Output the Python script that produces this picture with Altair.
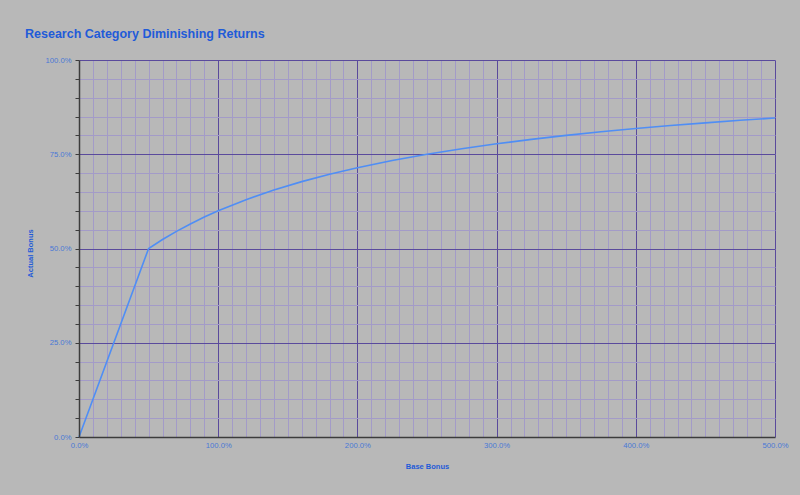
import altair as alt
import pandas as pd

# Data (fractions: 1.0 = 100%)
base_bonus = [0.0, 0.5, 0.6, 0.7, 0.8, 0.9, 1.0, 1.2, 1.4, 1.6, 1.8, 2.0,
              2.25, 2.5, 2.75, 3.0, 3.25, 3.5, 3.75, 4.0, 4.25, 4.5, 4.75, 5.0]
actual_bonus = [0.0, 0.5, 0.5238, 0.5455, 0.5652, 0.5833, 0.6, 0.6296, 0.6552,
                0.6774, 0.6970, 0.7143, 0.7333, 0.75, 0.7647, 0.7778, 0.7895,
                0.8, 0.8095, 0.8182, 0.8261, 0.8333, 0.8400, 0.8462]

x_minor = [round(i * 0.1, 2) for i in range(0, 51)]
y_minor = [round(i * 0.05, 2) for i in range(0, 21)]
x_major_grid = [1, 2, 3, 4, 5]
y_major_grid = [0.25, 0.5, 0.75, 1.0]
x_labels = [0, 1, 2, 3, 4, 5]

df = pd.DataFrame({"base": base_bonus, "actual": actual_bonus})

BG = "#b8b8b8"
MAJOR = "#5a4a9c"
MINOR = "#a39bc8"
LINE = "#4f8ef5"
LABEL = "#4a78d6"
TITLE = "#1f5bd8"
AXIS = "#3c3c3c"
FONT = "Liberation Sans"

xs = alt.Scale(domain=[0, 5], nice=False, zero=True)
ys = alt.Scale(domain=[0, 1], nice=False, zero=True)

base = alt.Chart(df)

minor = base.mark_point(opacity=0).encode(
    x=alt.X("base:Q", scale=xs, axis=alt.Axis(
        orient="bottom", values=x_minor, grid=True, gridColor=MINOR, gridWidth=1,
        gridOpacity=1, ticks=False, labels=False, domain=False, title=None)),
    y=alt.Y("actual:Q", scale=ys, axis=alt.Axis(
        orient="left", values=y_minor, grid=True, gridColor=MINOR, gridWidth=1,
        gridOpacity=1, ticks=False, labels=False, domain=False, title=None)),
)

major = base.mark_point(opacity=0).encode(
    x=alt.X("base:Q", scale=xs, axis=alt.Axis(
        orient="bottom", values=x_major_grid, grid=True, gridColor=MAJOR, gridWidth=1,
        gridOpacity=1, ticks=False, labels=False, domain=False, title=None)),
    y=alt.Y("actual:Q", scale=ys, axis=alt.Axis(
        orient="left", values=y_major_grid, grid=True, gridColor=MAJOR, gridWidth=1,
        gridOpacity=1, ticks=False, labels=False, domain=False, title=None)),
)

line = base.mark_line(color=LINE, strokeWidth=1.6).encode(
    x=alt.X("base:Q", scale=xs, axis=alt.Axis(
        orient="bottom", values=x_labels, grid=False, ticks=False, tickSize=0,
        format=".1%", labelPadding=4, labelFont=FONT, labelFontSize=7.7,
        labelColor=LABEL, labelOverlap=False, labelFlush=False,
        domain=True, domainColor=AXIS, domainWidth=1.5, zindex=1,
        title="Base Bonus", titleFont=FONT, titleFontSize=7.5, titleFontWeight="bold",
        titleColor=TITLE, titlePadding=14)),
    y=alt.Y("actual:Q", scale=ys, axis=alt.Axis(
        orient="left", values=y_minor, grid=False, ticks=True, tickSize=4,
        tickColor=AXIS, tickWidth=1,
        labelExpr="abs(datum.value*4 - round(datum.value*4)) < 0.001 ? format(datum.value, '.1%') : ''",
        labelPadding=4, labelFont=FONT, labelFontSize=7.7, labelColor=LABEL,
        labelOverlap=False, labelFlush=False,
        domain=True, domainColor=AXIS, domainWidth=1.5, zindex=1,
        title="Actual Bonus", titleFont=FONT, titleFontSize=7.5, titleFontWeight="bold",
        titleColor=TITLE, titlePadding=10, titleY=193)),
)

chart = alt.layer(minor, major, line).resolve_axis(
    x="independent", y="independent"
).properties(
    width=696,
    height=377,
    background=BG,
    autosize=alt.AutoSizeParams(type="none"),
    padding={"left": 71, "top": 52, "right": 17, "bottom": 50},
    title=alt.TitleParams(
        "Research Category Diminishing Returns", anchor="start", frame="group",
        dx=-54, dy=10, offset=16, baseline="alphabetic", font=FONT, fontSize=12.5,
        fontWeight="bold", color=TITLE),
).configure_view(stroke=None)

# Page template with a grey body, so the 8px page margin matches the chart
PAGE = """<!DOCTYPE html>
<html>
<head>
  <style>
    html, body { background: #b8b8b8; }
    #{{ output_div }}.vega-embed { width: 100%; display: flex; }
  </style>
  <script type="text/javascript" src="{{ base_url }}/vega@{{ vega_version }}"></script>
  <script type="text/javascript" src="{{ base_url }}/vega-lite@{{ vegalite_version }}"></script>
  <script type="text/javascript" src="{{ base_url }}/vega-embed@{{ vegaembed_version }}"></script>
</head>
<body>
  <div id="{{ output_div }}"></div>
  <script>
    (function(vegaEmbed) {
      var spec = {{ spec }};
      var embedOpt = {{ embed_options }};
      vegaEmbed("#{{ output_div }}", spec, embedOpt);
    })(vegaEmbed);
  </script>
</body>
</html>
"""

ok = False
try:
    import jinja2
    chart.save("out.html", embed_options={"renderer": "svg", "actions": False},
               template=jinja2.Template(PAGE))
    with open("out.html", encoding="utf-8") as f:
        page = f.read()
    ok = ("vega-embed@" in page and "vega-lite@" in page and '"$schema"' in page
          and "/vega@" in page and "{{" not in page)
except Exception:
    ok = False

if not ok:
    chart.save("out.html", embed_options={"renderer": "svg", "actions": False})
